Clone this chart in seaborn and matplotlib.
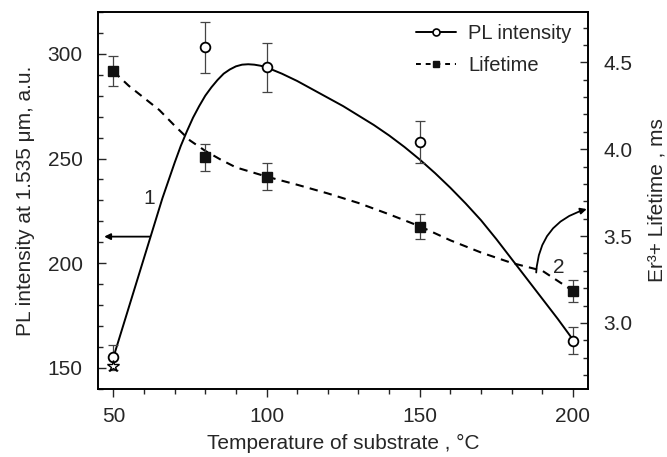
import numpy as np
import matplotlib
matplotlib.use("Agg")
import matplotlib.pyplot as plt
import seaborn as sns
import pandas as pd
from matplotlib.lines import Line2D
from matplotlib.patches import FancyArrowPatch
from matplotlib.ticker import MultipleLocator

sns.set_style("ticks")
plt.rcParams['font.family'] = ['Liberation Sans', 'DejaVu Sans']

# measured points (temperature, PL intensity, lifetime)
temp = [50, 80, 100, 150, 200]
pl_int = [155, 303, 293.5, 258, 163]
pl_err = [6, 12, 11.8, 10, 6.5]
life = [4.448, 3.952, 3.842, 3.554, 3.184]
life_err = [0.087, 0.078, 0.078, 0.07, 0.064]

# extra point (star) at 50 C
star_t = [50]
star_pl = [151]

# solid guide curve for PL intensity
fit_t = [50, 52, 54, 56, 58, 60, 62, 64, 66, 68, 70, 72, 74, 76, 78, 80, 82, 84, 86, 88,
         90, 92, 94, 96, 98, 100, 105, 110, 115, 120, 125, 130, 135, 140, 145, 150,
         155, 160, 165, 170, 175, 180, 185, 190, 195, 200]
fit_pl = [155, 164.5, 174, 183.5, 193, 202.5, 212, 221.5, 231, 239.5, 248, 256, 263, 269.5,
          275, 280, 284, 287.5, 290.5, 292.5, 294, 294.8, 295, 294.8, 294.3, 293.5, 290.5,
          287, 283, 279, 275, 270.5, 266, 261, 255.5, 249.5, 243, 236, 228.5, 220.5, 211.5,
          202, 192.5, 183, 173.5, 163.5]

# dashed guide curve for lifetime
dash_t = [50, 55, 60, 65, 70, 75, 80, 85, 90, 100, 110, 120, 130, 140, 150,
          160, 170, 180, 190, 200]
dash_life = [4.448, 4.365, 4.295, 4.225, 4.135, 4.05, 3.99, 3.94, 3.895, 3.842, 3.795,
             3.745, 3.69, 3.625, 3.556, 3.475, 3.405, 3.345, 3.30, 3.184]

fs = 15

fig = plt.figure(figsize=(6.67, 4.57), dpi=100)
ax = fig.add_axes([0.147, 0.149, 0.735, 0.825])
ax2 = ax.twinx()

# PL intensity on left axis
fit_df = pd.DataFrame({"T": fit_t, "PL": fit_pl})
sns.lineplot(data=fit_df, x="T", y="PL", ax=ax, color="black", lw=1.4, sort=False, zorder=2)
ax.errorbar(temp, pl_int, yerr=pl_err, fmt="none", ecolor="#444444", elinewidth=0.9,
            capsize=3.5, capthick=0.9, zorder=3)
ax.plot(temp, pl_int, "o", ms=7, mfc="white", mec="black", mew=1.3, zorder=4)
ax.plot(star_t, star_pl, "*", ms=9, mfc="white", mec="black", mew=1.0, zorder=4)

# Lifetime on right axis
dash_df = pd.DataFrame({"T": dash_t, "life": dash_life})
sns.lineplot(data=dash_df, x="T", y="life", ax=ax2, color="black", lw=1.5, sort=False, zorder=2)
ax2.lines[-1].set_linestyle((0, (4, 3)))
ax2.errorbar(temp, life, yerr=life_err, fmt="none", ecolor="#444444", elinewidth=0.9,
             capsize=3.5, capthick=0.9, zorder=3)
ax2.plot(temp, life, "s", ms=6.5, mfc="#111111", mec="#111111", zorder=4)

ax.set_xlim(45, 205)
ax.set_ylim(140, 320)
ax2.set_ylim(2.62, 4.79)

ax.xaxis.set_major_locator(MultipleLocator(50))
ax.xaxis.set_minor_locator(MultipleLocator(10))
ax.yaxis.set_major_locator(MultipleLocator(50))
ax.yaxis.set_minor_locator(MultipleLocator(10))
ax2.yaxis.set_major_locator(MultipleLocator(0.5))
ax2.yaxis.set_minor_locator(MultipleLocator(0.1))
ax2.yaxis.set_major_formatter(matplotlib.ticker.FormatStrFormatter("%.1f"))

ax.tick_params(axis="x", which="major", direction="out", length=6, width=1, labelsize=fs, pad=7)
ax.tick_params(axis="x", which="minor", direction="out", length=3.5, width=1)
ax.tick_params(axis="y", which="major", direction="in", length=6, width=1, labelsize=fs, pad=11)
ax.tick_params(axis="y", which="minor", direction="in", length=3.5, width=1)
ax2.tick_params(axis="y", which="major", direction="in", length=6, width=1, labelsize=fs, pad=11)
ax2.tick_params(axis="y", which="minor", direction="in", length=3.5, width=1)

for a in (ax, ax2):
    for sp in a.spines.values():
        sp.set_visible(True)
        sp.set_linewidth(1.2)
        sp.set_color("black")

ax.set_xlabel("Temperature of substrate , \u00b0C", fontsize=fs, labelpad=6)
ax.set_ylabel("PL intensity at 1.535 \u03bcm, a.u.", fontsize=fs, labelpad=9)
ax2.set_ylabel("Er\u00b3+ Lifetime , ms", fontsize=fs, labelpad=11)

# curve labels with arrows
ax.text(61.8, 231, "1", fontsize=fs, ha="center", va="center")
ax.annotate("", xy=(47, 212.7), xytext=(62, 212.7),
            arrowprops=dict(arrowstyle="-|>", color="black", lw=1.3, mutation_scale=9,
                            shrinkA=0, shrinkB=0))
ax2.text(195.2, 3.32, "2", fontsize=fs, ha="center", va="center")
arr = FancyArrowPatch((188, 3.29), (204.5, 3.655), connectionstyle="arc3,rad=-0.35",
                      arrowstyle="-|>", mutation_scale=9, color="black", lw=1.3,
                      shrinkA=0, shrinkB=0)
ax2.add_patch(arr)

handles = [
    Line2D([], [], color="black", lw=1.4, marker="o", ms=5, mfc="white", mec="black", mew=1.2),
    Line2D([], [], color="black", lw=1.4, ls=(0, (2.5, 2.5)), marker="s", ms=5,
           mfc="#111111", mec="#111111"),
]
ax.legend(handles, ["PL intensity", "Lifetime"], loc="upper right", frameon=False,
          fontsize=14.5, handlelength=2.0, handletextpad=0.6, labelspacing=0.65,
          borderaxespad=0.2, bbox_to_anchor=(0.99, 1.0))

fig.savefig("out.png", dpi=100)
